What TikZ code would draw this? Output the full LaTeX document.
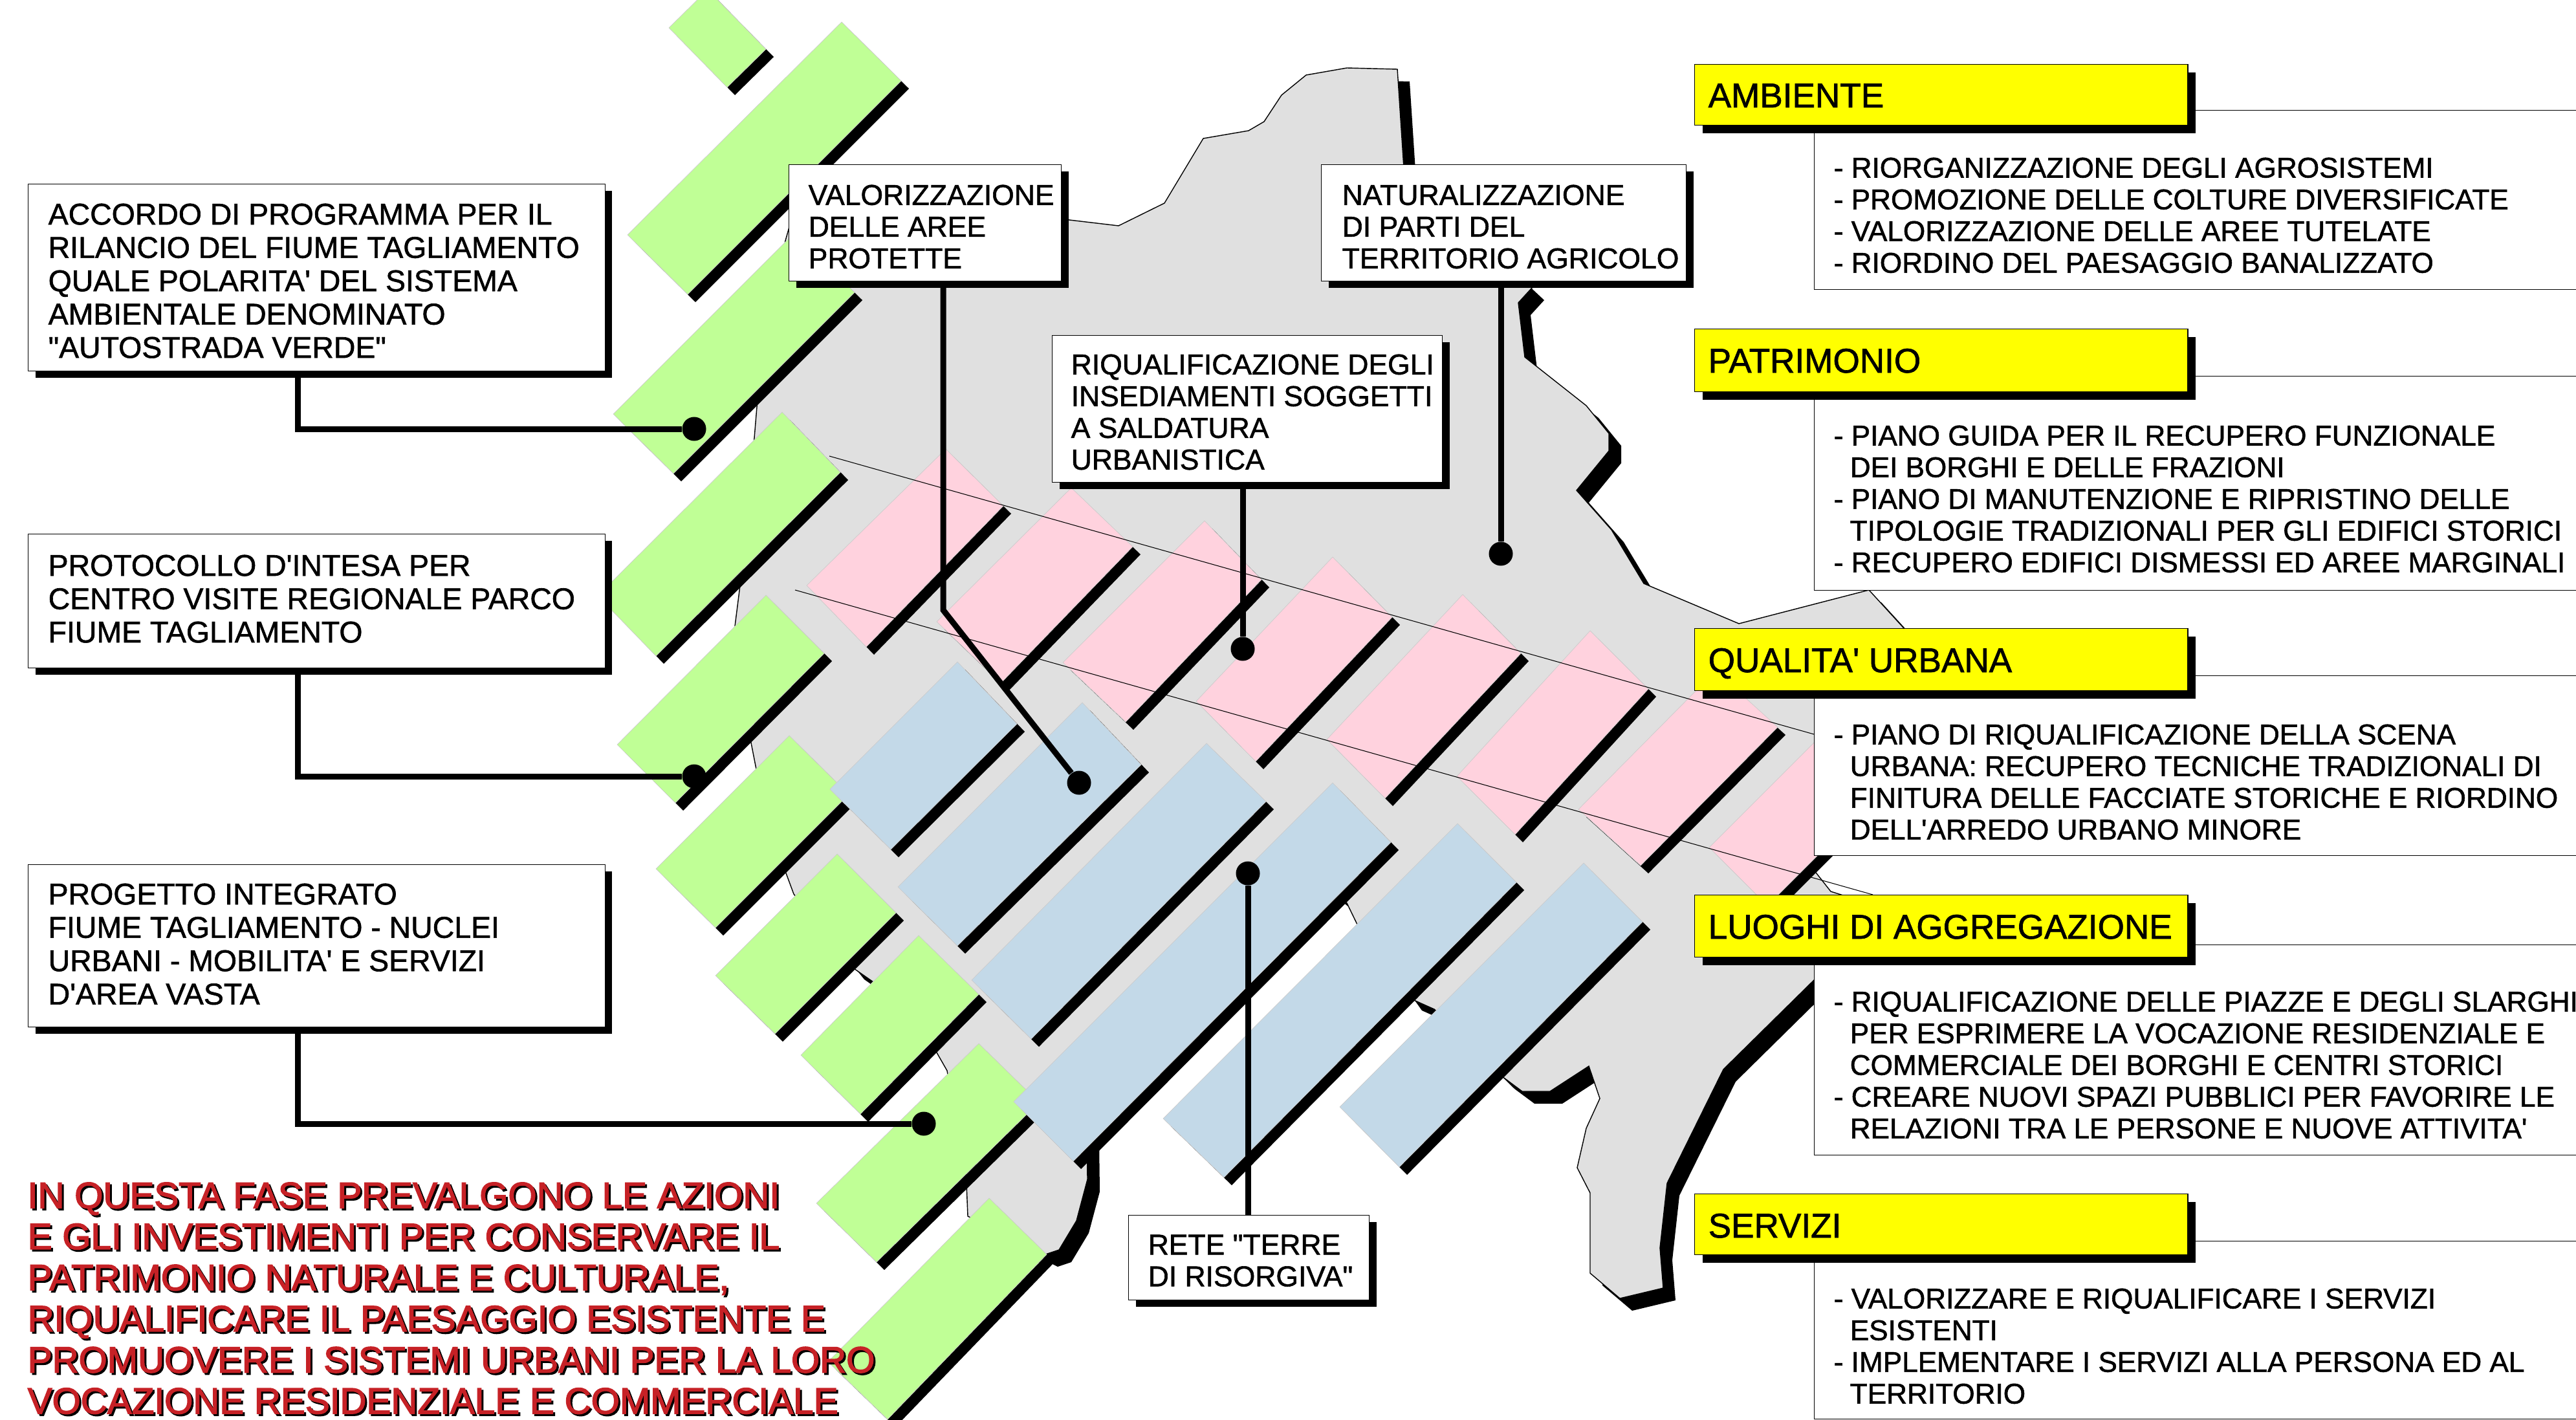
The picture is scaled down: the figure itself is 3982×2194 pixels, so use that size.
\documentclass[tikz,border=0pt]{standalone}
\usepackage{fontspec}
\newfontfamily\fbody[FakeBold=1.3]{Liberation Sans}
\newfontfamily\fred[FakeBold=2.5]{Liberation Sans}
\usetikzlibrary{shadows,calc}
\definecolor{cgreen}{RGB}{192,255,150}
\definecolor{cpink}{RGB}{255,210,222}
\definecolor{cblue}{RGB}{195,217,232}
\definecolor{cmap}{RGB}{224,224,224}
\definecolor{cred}{RGB}{198,33,38}
\definecolor{cyel}{RGB}{255,255,0}
\newcommand\band[5]{%
  \fill[black] ($(#1)+(12,12)$) -- ($(#2)+(12,12)$) -- ($(#3)+(12,12)$) -- ($(#4)+(12,12)$) -- cycle;
  \filldraw[#5,draw=black!20,line width=0.2pt] (#1) -- (#2) -- (#3) -- (#4) -- cycle;}
\newlength\pu \setlength\pu{0.01cm}
\newcommand\li[1]{\makebox[27\pu][l]{-}#1}
\newcommand\lc[1]{\hspace*{25\pu}#1}
\tikzset{
  boxs/.style={draw=black,line width=0.3pt,fill=white,inner sep=0pt,
     general shadow={fill=black,shadow xshift=0.11cm,shadow yshift=-0.10cm}},
  ybox/.style={draw=black,line width=0.3pt,fill=cyel,inner sep=0pt,minimum width=7.62cm,
     general shadow={fill=black,shadow xshift=0.12cm,shadow yshift=-0.12cm}},
  opbox/.style={draw=black,line width=0.3pt,fill=white,inner sep=0pt,minimum width=12cm},
  body/.style={anchor=north west,inner sep=0pt,align=left,font=\fbody\fontsize{12.55pt}{13.94pt}\selectfont},
  lbody/.style={anchor=north west,inner sep=0pt,align=left,font=\fbody\fontsize{13.2pt}{14.65pt}\selectfont},
  mbody/.style={anchor=north west,inner sep=0pt,align=left,font=\fbody\fontsize{12.65pt}{13.94pt}\selectfont},
  title/.style={anchor=base west,inner sep=0pt,font=\fbody\fontsize{15.1pt}{16pt}\selectfont},
  redt/.style={anchor=north west,inner sep=0pt,align=left,font=\fred\fontsize{16.15pt}{18.07pt}\selectfont},
  conn/.style={line width=0.09cm,black},
  dotn/.style={circle,fill=black,inner sep=0pt,minimum size=0.37cm},
  thin/.style={line width=0.3pt,black}
}
\begin{document}
\begin{tikzpicture}[x=0.01cm,y=-0.01cm]
\useasboundingbox (0,0) rectangle (3982,2194);
\clip (0,0) rectangle (3982,2194);
% map shadow
\fill[black,shift={(19,19)}] (2019,116)--(2082,105)--(2160,107)--(2170,260)--(2368,445)--(2347,468)--(2357,552)--(2452,627)--(2487,670)--(2487,697)--(2437,758)--(2491,819)--(2541,902)--(2688,964)--(2889,912)--(2942,970)--(3000,1100)--(2778,1300)--(2778,1372)--(2850,1440)--(2900,1460)--(2804,1515)--(2664,1653)--(2577,1829)--(2566,1929)--(2571,1991)--(2504,2007)--(2458,1968)--(2458,1844)--(2438,1805)--(2452,1744)--(2473,1698)--(2456,1648)--(2396,1687)--(2353,1687)--(2322,1664)--(2217,1560)--(2179,1543)--(2098,1429)--(2082,1396)--(2050,1370)--(1680,1740)--(1681,1823)--(1664,1887)--(1637,1932)--(1616,1939)--(1496,1880)--(1494,1830)--(1464,1655)--(1448,1627)--(1350,1518)--(1317,1495)--(1227,1382)--(1214,1347)--(1169,1189)--(1160,1143)--(1136,968)--(1144,905)--(1166,677)--(1171,617)--(1214,372)--(1220,351)--(1500,300)--(1653,340)--(1729,349)--(1800,314)--(1860,214)--(1930,202)--(1954,188)--(1981,147)--cycle;
% map
\filldraw[fill=cmap,draw=black,line width=0.4pt] (2019,116)--(2082,105)--(2160,107)--(2170,260)--(2368,445)--(2347,468)--(2357,552)--(2452,627)--(2487,670)--(2487,697)--(2437,758)--(2491,819)--(2541,902)--(2688,964)--(2889,912)--(2942,970)--(3000,1100)--(2830,1250)--(2806,1322)--(2804,1345)--(2830,1378)--(2900,1400)--(2900,1460)--(2804,1515)--(2664,1653)--(2577,1829)--(2566,1929)--(2571,1991)--(2504,2007)--(2458,1968)--(2458,1844)--(2438,1805)--(2452,1744)--(2473,1698)--(2456,1648)--(2396,1687)--(2353,1687)--(2322,1664)--(2217,1560)--(2179,1543)--(2098,1429)--(2082,1396)--(2050,1370)--(1680,1740)--(1681,1823)--(1664,1887)--(1637,1932)--(1616,1939)--(1496,1880)--(1494,1830)--(1464,1655)--(1448,1627)--(1350,1518)--(1317,1495)--(1227,1382)--(1214,1347)--(1169,1189)--(1160,1143)--(1136,968)--(1144,905)--(1166,677)--(1171,617)--(1214,372)--(1220,351)--(1500,300)--(1653,340)--(1729,349)--(1800,314)--(1860,214)--(1930,202)--(1954,188)--(1981,147)--cycle;
% pink
\band{1462,694}{1551,782}{1339,1000}{1247,905}{cpink}
\band{1656,754}{1751,845}{1547,1056}{1448,961}{cpink}
\band{1862,805}{1950,896}{1740,1116}{1643,1024}{cpink}
\band{2060,861}{2152,954}{1941,1177}{1849,1084}{cpink}
\band{2261,919}{2351,1010}{2141,1234}{2051,1143}{cpink}
\band{2458,975}{2548,1065}{2342,1290}{2252,1200}{cpink}
\band{2652,1037}{2748,1124}{2536,1338}{2440,1251}{cpink}
\band{2842,1110}{2932,1200}{2732,1400}{2642,1310}{cpink}
% green
\band{1094,-16}{1184,76}{1124,135}{1034,43}{cgreen}
\band{1301,34}{1393,125}{1063,455}{970,363}{cgreen}
\band{1228,360}{1321,452}{1041,732}{948,640}{cgreen}
\band{1209,637}{1299,730}{1014,1014}{924,921}{cgreen}
\band{1184,920}{1274,1010}{1044,1241}{954,1151}{cgreen}
\band{1220,1137}{1312,1228}{1106,1434}{1014,1343}{cgreen}
\band{1294,1320}{1385,1411}{1198,1598}{1106,1508}{cgreen}
\band{1420,1446}{1513,1537}{1330,1722}{1238,1631}{cgreen}
\band{1513,1613}{1606,1704}{1355,1951}{1262,1860}{cgreen}
\band{1529,1852}{1618,1939}{1372,2194}{1280,2105}{cgreen}
% blue
\band{1480,1023}{1572,1119}{1377,1313}{1283,1220}{cblue}
\band{1673,1086}{1764,1182}{1480,1462}{1388,1371}{cblue}
\band{1865,1149}{1957,1239}{1594,1606}{1502,1515}{cblue}
\band{2060,1210}{2150,1302}{1659,1795}{1567,1703}{cblue}
\band{2253,1273}{2344,1364}{1892,1820}{1798,1729}{cblue}
\band{2448,1334}{2539,1425}{2163,1804}{2071,1711}{cblue}
% thin diagonals
\coordinate (la) at (1282,705); \coordinate (lb) at (2804,1135);
\coordinate (lc) at (1229,912); \coordinate (ld) at (2895,1383);
\draw[thin] (la) -- (lb);
\draw[thin] (lc) -- (ld);
% open text boxes
\node[opbox,anchor=north west,minimum height=2.77cm] (ta) at (2804,170) {};
\node[opbox,anchor=north west,minimum height=3.31cm] (tb) at (2804,581) {};
\node[opbox,anchor=north west,minimum height=2.78cm] (tc) at (2804,1044) {};
\node[opbox,anchor=north west,minimum height=3.25cm] (td) at (2804,1460) {};
\node[opbox,anchor=north west,minimum height=2.75cm] (te) at (2804,1918) {};
% yellow boxes
\node[ybox,anchor=north west,minimum height=0.94cm] (ya) at (2619,99) {};
\node[ybox,anchor=north west,minimum height=0.97cm] (yb) at (2619,508) {};
\node[ybox,anchor=north west,minimum height=0.96cm] (yc) at (2619,971) {};
\node[ybox,anchor=north west,minimum height=0.96cm] (yd) at (2619,1383) {};
\node[ybox,anchor=north west,minimum height=0.94cm] (ye) at (2619,1845) {};
\node[title] (na) at (2640,166) {AMBIENTE};
\node[title] (nb) at (2640,576) {PATRIMONIO};
\node[title] (nc) at (2640,1039) {QUALITA' URBANA};
\node[title] (nd) at (2640,1451) {LUOGHI DI AGGREGAZIONE};
\node[title] (ne) at (2640,1913) {SERVIZI};
\node[body] (ba) at (2834,243) {\li{RIORGANIZZAZIONE DEGLI AGROSISTEMI}\\\li{PROMOZIONE DELLE COLTURE DIVERSIFICATE}\\\li{VALORIZZAZIONE DELLE AREE TUTELATE}\\\li{RIORDINO DEL PAESAGGIO BANALIZZATO}};
\node[body] (bb) at (2834,657) {\li{PIANO GUIDA PER IL RECUPERO FUNZIONALE}\\\lc{DEI BORGHI E DELLE FRAZIONI}\\\li{PIANO DI MANUTENZIONE E RIPRISTINO DELLE}\\\lc{TIPOLOGIE TRADIZIONALI PER GLI EDIFICI STORICI}\\\li{RECUPERO EDIFICI DISMESSI ED AREE MARGINALI}};
\node[body] (bc) at (2834,1119) {\li{PIANO DI RIQUALIFICAZIONE DELLA SCENA}\\\lc{URBANA: RECUPERO TECNICHE TRADIZIONALI DI}\\\lc{FINITURA DELLE FACCIATE STORICHE E RIORDINO}\\\lc{DELL'ARREDO URBANO MINORE}};
\node[body] (bd) at (2834,1532) {\li{RIQUALIFICAZIONE DELLE PIAZZE E DEGLI SLARGHI}\\\lc{PER ESPRIMERE LA VOCAZIONE RESIDENZIALE E}\\\lc{COMMERCIALE DEI BORGHI E CENTRI STORICI}\\\li{CREARE NUOVI SPAZI PUBBLICI PER FAVORIRE LE}\\\lc{RELAZIONI TRA LE PERSONE E NUOVE ATTIVITA'}};
\node[body] (be) at (2834,1991) {\li{VALORIZZARE E RIQUALIFICARE I SERVIZI}\\\lc{ESISTENTI}\\\li{IMPLEMENTARE I SERVIZI ALLA PERSONA ED AL}\\\lc{TERRITORIO}};
% dots and connectors
\node[dotn] (d1) at (1073,663) {};
\node[dotn] (d2) at (1073,1200) {};
\node[dotn] (d3) at (1428,1737) {};
\node[dotn] (d4) at (1668,1210) {};
\node[dotn] (d5) at (1921,1003) {};
\node[dotn] (d6) at (2320,856) {};
\node[dotn] (d7) at (1929,1350) {};
% left boxes
\node[boxs,anchor=north west,minimum width=8.91cm,minimum height=2.89cm] (a1) at (43,284) {};
\node[boxs,anchor=north west,minimum width=8.91cm,minimum height=2.07cm] (a2) at (43,825) {};
\node[boxs,anchor=north west,minimum width=8.91cm,minimum height=2.51cm] (a3) at (43,1336) {};
\node[boxs,anchor=north west,minimum width=4.21cm,minimum height=1.80cm] (a4) at (1219,254) {};
\node[boxs,anchor=north west,minimum width=5.64cm,minimum height=1.80cm] (a5) at (2042,254) {};
\node[boxs,anchor=north west,minimum width=6.03cm,minimum height=2.27cm] (a6) at (1626,518) {};
\node[boxs,anchor=north west,minimum width=3.72cm,minimum height=1.31cm] (a7) at (1744,1878) {};
\coordinate (k1) at (460,573); \coordinate (k2) at (460,1032); \coordinate (k3) at (460,1587);
\coordinate (k4) at (1458,434); \coordinate (k4b) at (1458,943);
\coordinate (k5) at (1921,745); \coordinate (k6) at (2320,434); \coordinate (k7) at (1929,1878);
\draw[conn] (k1) |- (d1);
\draw[conn] (k2) |- (d2);
\draw[conn] (k3) |- (d3);
\draw[conn] (k4) -- (k4b) -- (d4);
\draw[conn] (k5) -- (d5);
\draw[conn] (k6) -- (d6);
\draw[conn] (k7) -- (d7);
\node[lbody] (t1) at (74,314) {ACCORDO DI PROGRAMMA PER IL\\RILANCIO DEL FIUME TAGLIAMENTO\\QUALE POLARITA' DEL SISTEMA\\AMBIENTALE DENOMINATO\\"AUTOSTRADA VERDE"};
\node[lbody] (t2) at (74,857) {PROTOCOLLO D'INTESA PER\\CENTRO VISITE REGIONALE PARCO\\FIUME TAGLIAMENTO};
\node[lbody] (t3) at (74,1365) {PROGETTO INTEGRATO\\FIUME TAGLIAMENTO - NUCLEI\\URBANI - MOBILITA' E SERVIZI\\D'AREA VASTA};
\node[mbody] (t4) at (1249,285) {VALORIZZAZIONE\\DELLE AREE\\PROTETTE};
\node[mbody] (t5) at (2074,285) {NATURALIZZAZIONE\\DI PARTI DEL\\TERRITORIO AGRICOLO};
\node[mbody] (t6) at (1655,547) {RIQUALIFICAZIONE DEGLI\\INSEDIAMENTI SOGGETTI\\A SALDATURA\\URBANISTICA};
\node[mbody] (t7) at (1774,1908) {RETE "TERRE\\DI RISORGIVA"};
% red text
\node[redt,black] (rs) at (45,1830) {IN QUESTA FASE PREVALGONO LE AZIONI\\E GLI INVESTIMENTI PER CONSERVARE IL\\PATRIMONIO NATURALE E CULTURALE,\\RIQUALIFICARE IL PAESAGGIO ESISTENTE E\\PROMUOVERE I SISTEMI URBANI PER LA LORO\\VOCAZIONE RESIDENZIALE E COMMERCIALE};
\node[redt,cred] (rt) at (42,1827) {IN QUESTA FASE PREVALGONO LE AZIONI\\E GLI INVESTIMENTI PER CONSERVARE IL\\PATRIMONIO NATURALE E CULTURALE,\\RIQUALIFICARE IL PAESAGGIO ESISTENTE E\\PROMUOVERE I SISTEMI URBANI PER LA LORO\\VOCAZIONE RESIDENZIALE E COMMERCIALE};
\end{tikzpicture}
\end{document}
